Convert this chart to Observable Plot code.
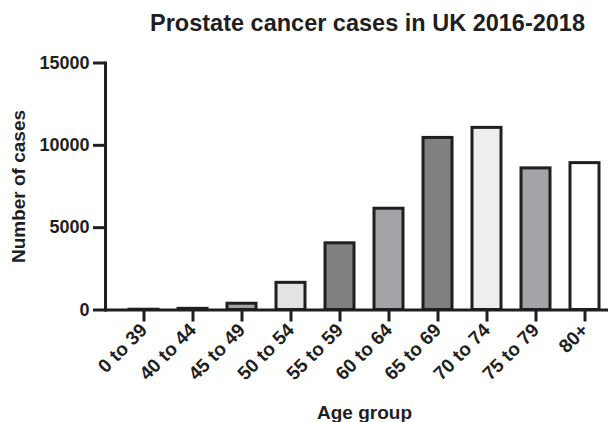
<!DOCTYPE html>
<html>
<head>
<meta charset="utf-8">
<script src="https://cdn.jsdelivr.net/npm/d3@7"></script>
<script src="https://cdn.jsdelivr.net/npm/@observablehq/plot@0.6"></script>
<style>
  html, body { margin: 0; padding: 0; background: #fff; }
  svg { font-family: "Liberation Sans", Arial, sans-serif; }
</style>
</head>
<body>
<div id="chart"></div>
<script>
const ageGroups = ["0 to 39", "40 to 44", "45 to 49", "50 to 54", "55 to 59", "60 to 64", "65 to 69", "70 to 74", "75 to 79", "80+"];
const cases = [15, 70, 380, 1650, 4050, 6150, 10450, 11060, 8600, 8920];
const fills = ["#a3a3a8", "#e0e0e0", "#a3a3a8", "#e3e3e3", "#808080", "#a3a3a8", "#808080", "#eeeeee", "#a3a3a8", "#ffffff"];
const yTicks = [0, 5000, 10000, 15000];
const title = "Prostate cancer cases in UK 2016-2018";
const xLabel = "Age group";
const yLabel = "Number of cases";

const data = ageGroups.map((g, i) => ({group: g, value: cases[i], fill: fills[i]}));
const ink = "#1f1f1f";

const chart = Plot.plot({
  width: 614,
  height: 422,
  marginLeft: 105,
  marginRight: 6,
  marginTop: 62.5,
  marginBottom: 112.5,
  style: {fontFamily: "'Liberation Sans', Arial, sans-serif", color: ink, background: "#fff"},
  x: {domain: ageGroups, range: [104.5, 624], paddingInner: 0.4, paddingOuter: 0.4, axis: null},
  y: {domain: [0, 15000], axis: null},
  marks: [
    Plot.barY(data, {x: "group", y: "value", fill: "fill", stroke: ink, strokeWidth: 3}),
    Plot.ruleY([0], {stroke: ink, strokeWidth: 3}),
    Plot.frame({anchor: "left", stroke: ink, strokeWidth: 3, strokeOpacity: 1}),
    Plot.axisY({ticks: yTicks, tickFormat: d => String(d), tickSize: 12, tickPadding: 4, fontSize: 18, fontWeight: "bold", stroke: ink, strokeWidth: 3, fill: ink, label: null}),
    Plot.axisX({tickSize: 12, tickPadding: 5, tickRotate: -45, fontSize: 19, fontWeight: "bold", stroke: ink, strokeWidth: 3, fill: ink, label: null}),
    Plot.text([title], {frameAnchor: "top", lineAnchor: "bottom", dy: -32, dx: 10.5, fontSize: 23.5, fontWeight: "bold", fill: ink, text: d => d}),
    Plot.text([yLabel], {frameAnchor: "left", textAnchor: "middle", rotate: -90, dx: -87, fontSize: 19, fontWeight: "bold", fill: ink, text: d => d}),
    Plot.text([xLabel], {frameAnchor: "bottom", lineAnchor: "bottom", dy: 108.5, dx: 7.5, fontSize: 19, fontWeight: "bold", fill: ink, text: d => d})
  ]
});
document.getElementById("chart").append(chart);
</script>
</body>
</html>
